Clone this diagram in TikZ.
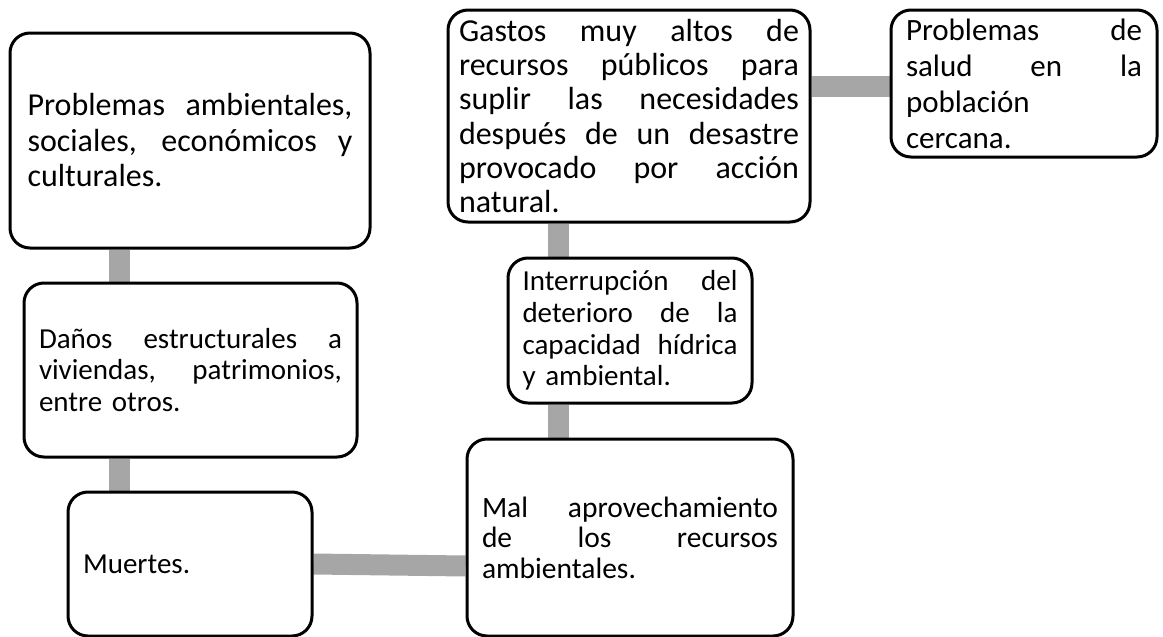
\documentclass[tikz,border=0pt]{standalone}
\usepackage{fontspec}
\setmainfont{Carlito}
\usepackage{tikz}
\usetikzlibrary{backgrounds}

\definecolor{linkgray}{HTML}{A6A6A6}
\newlength{\boxtw}
% one justified line inside a box
\newcommand{\jl}[1]{\makebox[\boxtw][s]{\spaceskip=.23em plus 1fil\relax #1}\\}

\begin{document}
\begin{tikzpicture}[x=1pt, y=-1pt,
  box/.style={draw, line width=3pt, rounded corners=20pt, fill=white, inner sep=4pt},
  tw/.style={text width=#1, execute at begin node={\setlength{\boxtw}{#1}}},
  bigtxt/.style={font=\fontsize{31}{35.5}\selectfont},
  smalltxt/.style={font=\fontsize{29}{31.5}\selectfont},
  link/.style={draw=linkgray, line width=21pt}]
  \useasboundingbox (0,0) rectangle (1163,637);
  % left column
  \node[box, bigtxt, font=\fontsize{32}{35.5}\selectfont, minimum width=360, minimum height=215, tw=325pt] (b1) at (190,140.5)
    {\jl{Problemas ambientales,}\jl{sociales, económicos y}culturales.};
  \node[box, smalltxt, minimum width=333, minimum height=174, tw=303pt] (b2) at (190.5,370)
    {\jl{Daños estructurales a}\jl{viviendas, patrimonios,}entre otros.};
  \node[box, smalltxt, minimum width=244, minimum height=144, tw=214pt] (b3) at (190,564)
    {Muertes.};
  % middle column
  \node[box, smalltxt, font=\fontsize{29.5}{30.5}\selectfont, minimum width=326, minimum height=197, tw=296pt] (b4) at (630,537.5)
    {\jl{Mal aprovechamiento}\jl{de los recursos}ambientales.};
  \node[box, smalltxt, font=\fontsize{29}{31.7}\selectfont, minimum width=244, minimum height=145, tw=215pt] (b5) at (630,330.5)
    {\jl{Interrupción del}\jl{deterioro de la}\jl{capacidad hídrica}y ambiental.};
  \node[box, bigtxt, font=\fontsize{32}{34.2}\selectfont, minimum width=362, minimum height=212, tw=340pt] (b6) at (629,116)
    {\jl{Gastos muy altos de}\jl{recursos públicos para}\jl{suplir las necesidades}\jl{después de un desastre}\jl{provocado por acción}natural.};
  % right
  \node[box, bigtxt, font=\fontsize{31}{36}\selectfont, minimum width=266, minimum height=147, tw=236pt] (b7) at (1024,83.5)
    {\jl{Problemas de}\jl{salud en la}población\\cercana.};
  % gray bars
  \coordinate (lcol) at (119,0);
  \coordinate (mcol) at (558,0);
  \coordinate (trow) at (0,86.5);
  \begin{scope}[on background layer]
    \draw[link] (b1.south -| lcol) -- (b2.north -| lcol);
    \draw[link] (b2.south -| lcol) -- (b3.north -| lcol);
    \draw[link] (b3.east) -- ([yshift=-2pt]b3.east -| b4.west);
    \draw[link] (b4.north -| mcol) -- (b5.south -| mcol);
    \draw[link] (b5.north -| mcol) -- (b6.south -| mcol);
    \draw[link] (b6.east |- trow) -- (b7.west |- trow);
  \end{scope}
\end{tikzpicture}
\end{document}
